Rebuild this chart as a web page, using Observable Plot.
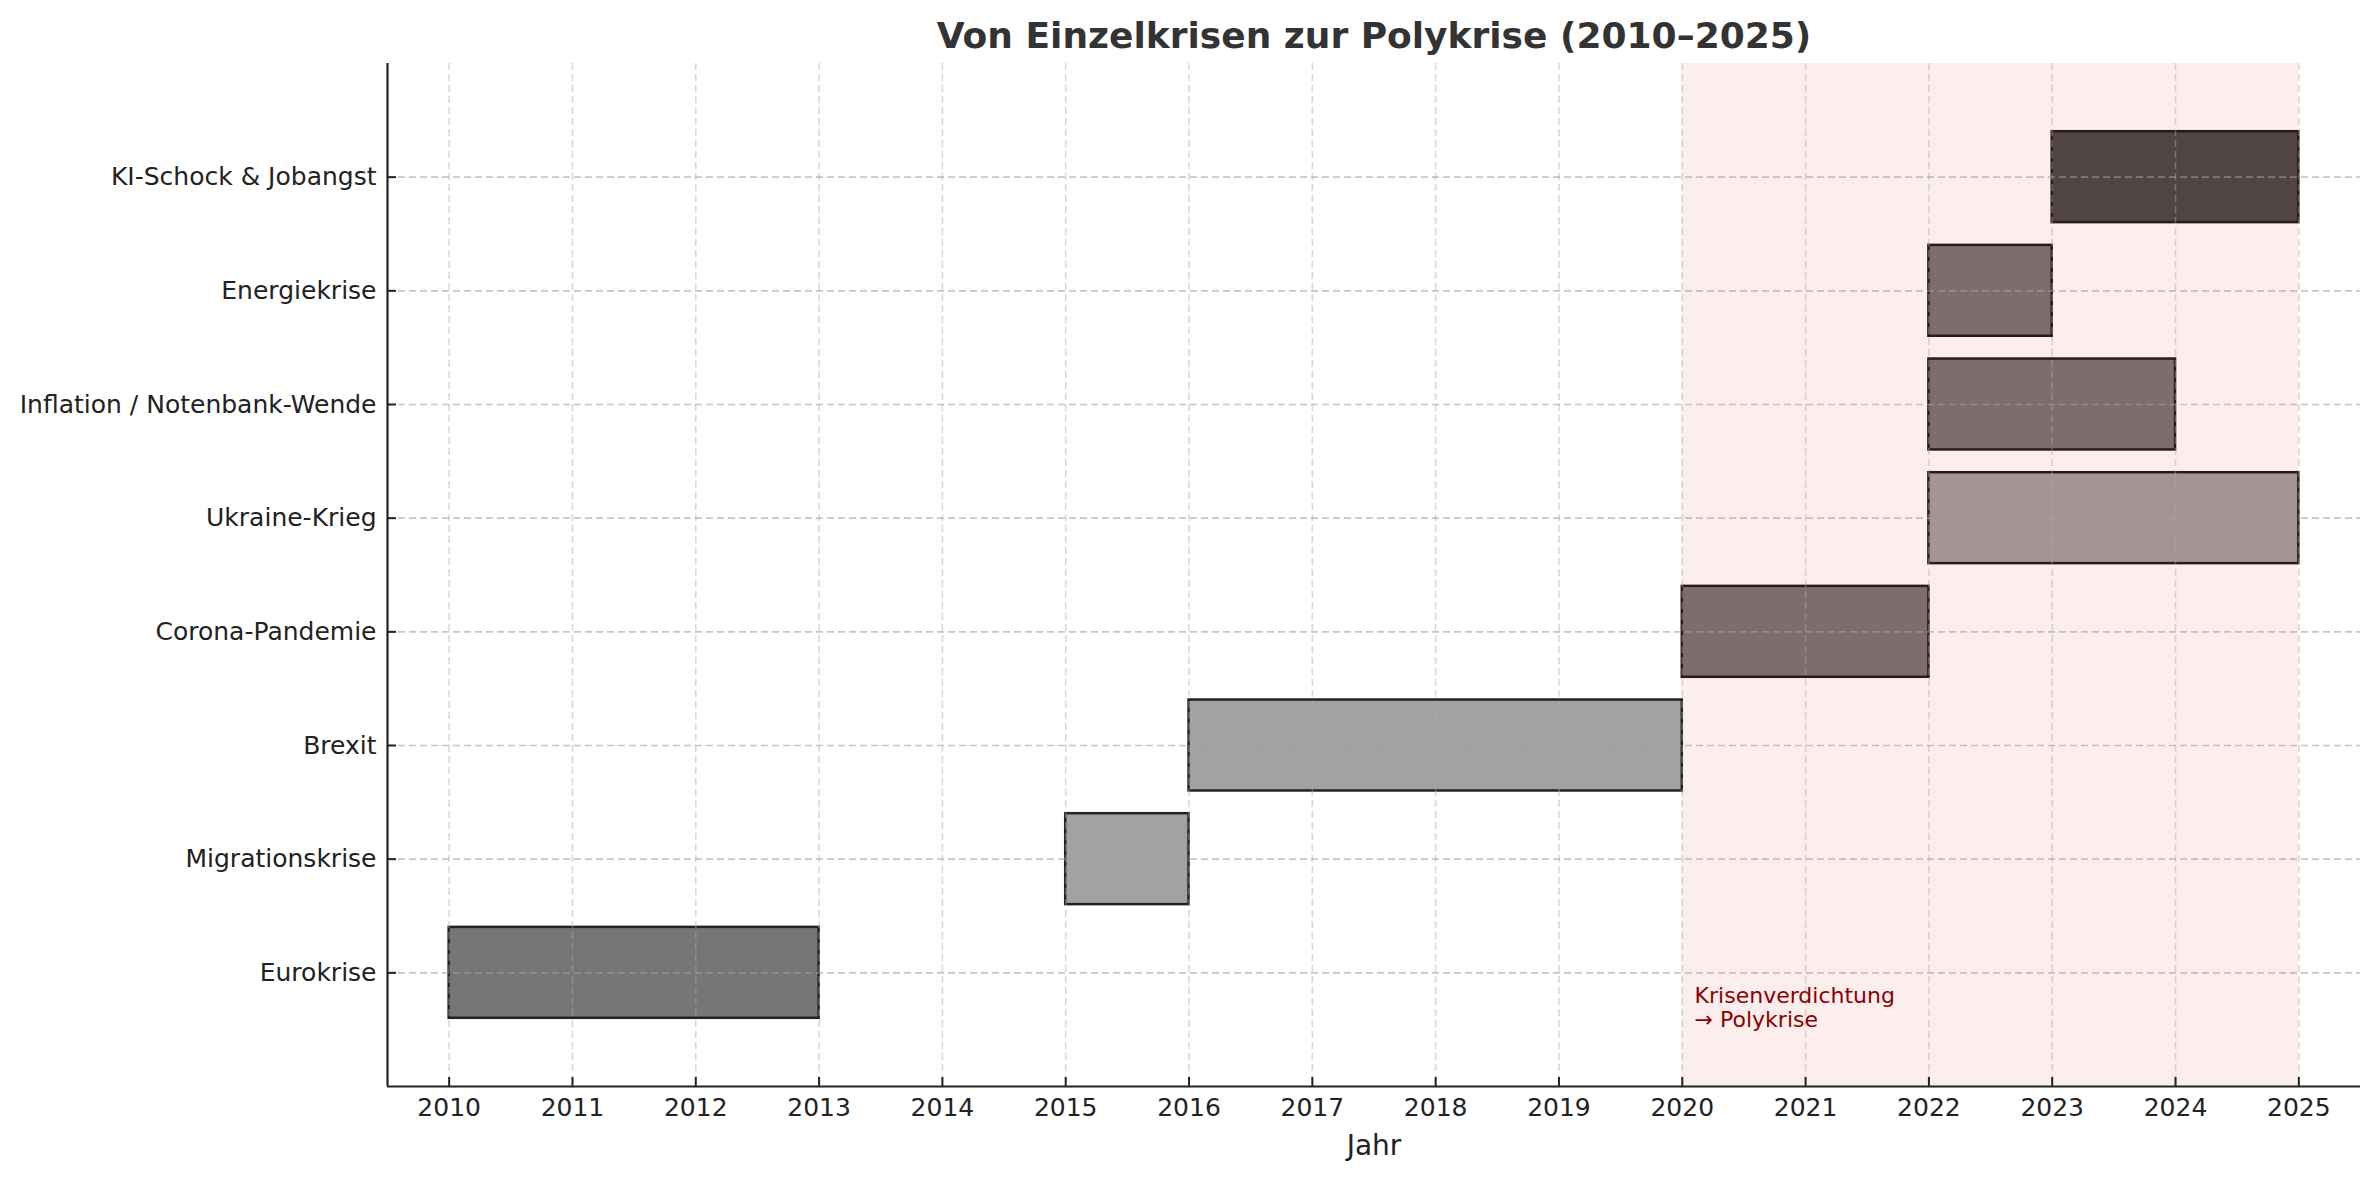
<!DOCTYPE html>
<html>
<head>
<meta charset="utf-8">
<script src="https://cdn.jsdelivr.net/npm/d3@7"></script>
<script src="https://cdn.jsdelivr.net/npm/@observablehq/plot@0.6"></script>
<style>
  html, body { margin: 0; padding: 0; background: #fff; }
  body { width: 2380px; height: 1179px; overflow: hidden; font-family: "DejaVu Sans", sans-serif; }
  #title { position: relative; height: 62px; width: 2380px; }
  #title span { position: absolute; left: 1374px; top: 35px; transform: translate(-50%, -50%);
    font-weight: bold; font-size: 36px; color: #333; white-space: nowrap; }
  svg { overflow: visible; display: block; }
</style>
</head>
<body>
<div id="title"><span>Von Einzelkrisen zur Polykrise (2010–2025)</span></div>
<div id="chart"></div>
<script>
// --- data ---
const crises = ["Eurokrise", "Migrationskrise", "Brexit", "Corona-Pandemie", "Ukraine-Krieg",
  "Inflation / Notenbank-Wende", "Energiekrise", "KI-Schock & Jobangst"];
const startYears = [2010, 2015, 2016, 2020, 2022, 2022, 2022, 2023];
const endYears = [2013, 2016, 2020, 2022, 2025, 2024, 2023, 2025];
const barColors = ["#767676", "#a2a2a2", "#a2a2a2", "#7d6e6e", "#a49595", "#7d6e6e", "#7d6e6e", "#514444"];
const yearTicks = [2010, 2011, 2012, 2013, 2014, 2015, 2016, 2017, 2018, 2019, 2020, 2021, 2022, 2023, 2024, 2025];
const polySpan = [{from: 2020, to: 2025}];
const noteText = "Krisenverdichtung\n→ Polykrise";
const xLabel = "Jahr";

const rows = crises.map((name, i) => ({
  name, i, start: startYears[i], end: endYears[i], color: barColors[i],
  inSpan: startYears[i] >= polySpan[0].from
}));
const idx = d3.range(crises.length);

const chart = Plot.plot({
  width: 2380,
  height: 1117,
  marginTop: 1,
  marginBottom: 93,
  marginLeft: 387,
  marginRight: 20,
  style: {fontFamily: "DejaVu Sans, sans-serif", background: "#fff", color: "#222"},
  x: {domain: [2009.5, 2025.5]},
  y: {domain: [-1, 8]},
  marks: [
    Plot.rect(polySpan, {x1: "from", x2: "to", fill: "#fdeeee"}),
    Plot.rect(rows, {
      x1: "start", x2: "end",
      y1: d => d.i - 0.4, y2: d => d.i + 0.4,
      fill: "color",
      stroke: d => d.inSpan ? "#2a1a1a" : "#222",
      strokeWidth: 2.5
    }),
    Plot.ruleX(yearTicks, {stroke: "#b0a8a8", strokeOpacity: 0.45, strokeWidth: 1.6, strokeDasharray: "7,4"}),
    Plot.ruleY(idx, {stroke: "#a0a0a0", strokeOpacity: 0.6, strokeWidth: 1.6, strokeDasharray: "7,4"}),
    Plot.text([noteText], {
      x: 2020.1, y: -0.3, text: d => d, textAnchor: "start", lineAnchor: "middle",
      lineHeight: 1.12, fill: "#8b0000", fontSize: 22
    }),
    Plot.ruleY([-1], {stroke: "#222", strokeWidth: 2.2}),
    Plot.ruleX([2009.5], {stroke: "#222", strokeWidth: 2.2}),
    Plot.axisX({
      ticks: yearTicks, tickFormat: d => String(d), tickSize: -9, tickPadding: 21,
      fontSize: 25, stroke: "#222", strokeWidth: 2, label: null, fill: "#222"
    }),
    Plot.axisY({
      ticks: idx, tickFormat: i => crises[i], tickSize: -9, tickPadding: 20,
      fontSize: 25, stroke: "#222", strokeWidth: 2, label: null, fill: "#222"
    }),
    Plot.text([xLabel], {frameAnchor: "bottom", dy: 60, text: d => d, fontSize: 28, fill: "#222", lineAnchor: "middle"})
  ]
});
document.getElementById("chart").appendChild(chart);
</script>
</body>
</html>
